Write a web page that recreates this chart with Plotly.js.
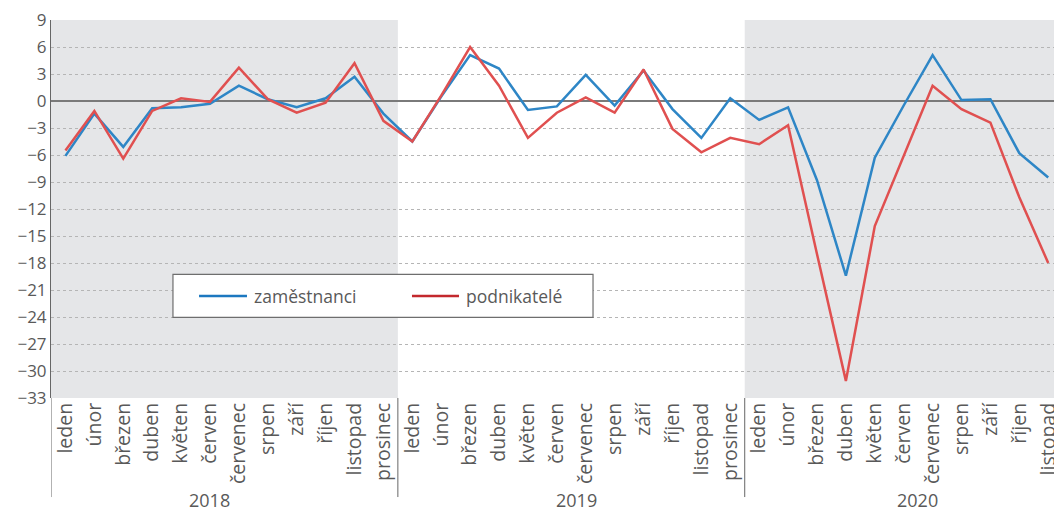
<!DOCTYPE html>
<html>
<head>
<meta charset="utf-8">
<script src="https://cdn.plot.ly/plotly-3.0.1.min.js"></script>
<style>html,body{margin:0;padding:0;background:#fff;}#chart{width:1054px;height:513px;}</style>
</head>
<body>
<div id="chart"></div>
<script>
const months = ["leden","únor","březen","duben","květen","červen","červenec","srpen","září","říjen","listopad","prosinec"];
const years = ["2018","2019","2020"];
const monthLabels = [].concat(months, months, months.slice(0, 11));
const seriesNames = ["zaměstnanci", "podnikatelé"];

const zamestnanci = [
  -6.1, -1.4, -5.1, -0.8, -0.7, -0.3, 1.7, 0.2, -0.7, 0.3, 2.7, -1.4,
  -4.5, 0.5, 5.1, 3.6, -1.0, -0.6, 2.9, -0.5, 3.4, -0.9, -4.1, 0.3,
  -2.1, -0.7, -8.8, -19.4, -6.3, -0.5, 5.1, 0.1, 0.2, -5.8, -8.5
];
const podnikatele = [
  -5.5, -1.1, -6.4, -1.1, 0.3, -0.1, 3.7, 0.2, -1.3, -0.2, 4.2, -2.2,
  -4.5, 0.6, 6.0, 1.7, -4.1, -1.3, 0.4, -1.3, 3.5, -3.1, -5.7, -4.1,
  -4.8, -2.7, -17.0, -31.1, -13.9, -6.0, 1.7, -0.9, -2.4, -10.7, -18.0
];
const yTicks = [9, 6, 3, 0, -3, -6, -9, -12, -15, -18, -21, -24, -27, -30, -33];

const xIdx = monthLabels.map((_, i) => i);
const font = "'Open Sans', 'Noto Sans', sans-serif";
const grey = "#595959";
const blue = "#2e86c6", red = "#e05050";

const traces = [
  {x: xIdx, y: zamestnanci, name: seriesNames[0], type: "scatter", mode: "lines",
   line: {color: blue, width: 2.5}, showlegend: false},
  {x: xIdx, y: podnikatele, name: seriesNames[1], type: "scatter", mode: "lines",
   line: {color: red, width: 2.5}, showlegend: false}
];

const shapes = [
  {type: "rect", xref: "x", yref: "y", x0: -0.5, x1: 11.5, y0: -33, y1: 9,
   fillcolor: "#e5e6e8", line: {width: 0}, layer: "below"},
  {type: "rect", xref: "x", yref: "y", x0: 23.5, x1: 36, y0: -33, y1: 9,
   fillcolor: "#e5e6e8", line: {width: 0}, layer: "below"}
];
[-0.5, 11.5, 23.5].forEach(xv => {
  shapes.push({type: "line", xref: "x", yref: "paper", x0: xv, x1: xv, y0: -0.262, y1: 0,
    line: {color: "#666", width: 1}});
});
// legend box (paper coords)
shapes.push({type: "rect", xref: "paper", yref: "paper", x0: 0.1216, x1: 0.5404, y0: 0.2135, y1: 0.3272,
  fillcolor: "#fff", line: {color: "#6e6e6e", width: 1.2}, layer: "above"});
shapes.push({type: "line", xref: "paper", yref: "paper", x0: 0.1476, x1: 0.1954, y0: 0.2698, y1: 0.2698,
  line: {color: "#1c78c0", width: 2.5}, layer: "above"});
shapes.push({type: "line", xref: "paper", yref: "paper", x0: 0.3599, x1: 0.4068, y0: 0.2698, y1: 0.2698,
  line: {color: "#c3282d", width: 2.5}, layer: "above"});

const yearPos = [4.97, 17.67, 29.47];
const annotations = years.map((t, i) => ({
  text: t, xref: "x", yref: "paper", x: yearPos[i], y: -0.3042, yanchor: "bottom", borderpad: 0,
  showarrow: false, font: {family: font, size: 18, color: grey}
}));
annotations.push({text: seriesNames[0], xref: "paper", yref: "paper", x: 0.2004, y: 0.2698,
  xanchor: "left", yanchor: "middle", showarrow: false, font: {family: font, size: 17.5, color: grey}});
annotations.push({text: seriesNames[1], xref: "paper", yref: "paper", x: 0.4117, y: 0.2698,
  xanchor: "left", yanchor: "middle", showarrow: false, font: {family: font, size: 17.5, color: grey}});

const layout = {
  width: 1054, height: 513,
  margin: {l: 51, r: 0, t: 20, b: 115},
  paper_bgcolor: "#fff", plot_bgcolor: "rgba(0,0,0,0)",
  showlegend: false,
  xaxis: {range: [-0.5, 34.2], tickmode: "array", tickvals: xIdx, ticktext: monthLabels,
    tickangle: -90, showgrid: false, zeroline: false, showline: false, ticks: "",
    ticklabeloverflow: "allow",
    tickfont: {family: font, size: 19.5, color: grey}, fixedrange: true},
  yaxis: {range: [-33, 9], tickmode: "array", tickvals: yTicks,
    ticktext: yTicks.map(v => v < 0 ? "\u2212" + Math.abs(v) : String(v)),
    showgrid: true, gridcolor: "#b5b5b5", griddash: "dot", gridwidth: 1,
    zeroline: true, zerolinecolor: "#7a7a7a", zerolinewidth: 1.5,
    showline: true, linecolor: "#666", linewidth: 1, ticks: "",
    tickfont: {family: font, size: 17, color: grey}, fixedrange: true},
  shapes: shapes,
  annotations: annotations
};

Plotly.newPlot("chart", traces, layout, {displayModeBar: false, staticPlot: true});
</script>
</body>
</html>
